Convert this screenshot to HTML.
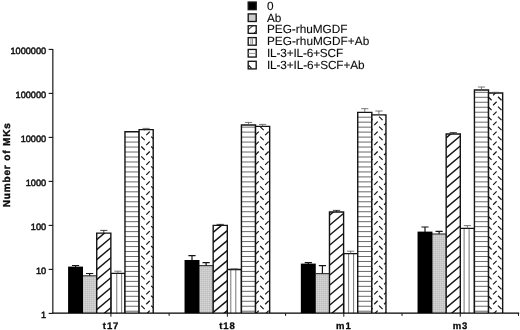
<!DOCTYPE html>
<html><head><meta charset="utf-8"><title>Number of MKs</title>
<style>
html,body{margin:0;padding:0;background:#fff;}
body{width:520px;height:330px;overflow:hidden;}
svg text{font-family:"Liberation Sans",Arial,Helvetica,sans-serif;fill:#0a0a0a;stroke:#0a0a0a;stroke-width:0.3px;text-rendering:geometricPrecision;}
.yl{font-size:9.2px;stroke-width:0.45px;}
.xl{font-size:9.5px;font-weight:bold;letter-spacing:0.9px;}
.yt{font-size:10px;font-weight:bold;stroke-width:0.4px;}
.lg{font-size:11.8px;stroke-width:0.1px;}
</style></head><body>
<svg width="520" height="330" viewBox="0 0 520 330" style="display:block">
<rect width="520" height="330" fill="#fff"/>
<defs>
<clipPath id="c00"><rect x="68.49" y="267.00" width="14.12" height="46.10"/></clipPath>
<clipPath id="c01"><rect x="82.61" y="275.80" width="14.12" height="37.30"/></clipPath>
<clipPath id="c02"><rect x="96.73" y="233.10" width="14.12" height="80.00"/></clipPath>
<clipPath id="c03"><rect x="110.85" y="273.40" width="14.12" height="39.70"/></clipPath>
<clipPath id="c04"><rect x="124.97" y="131.70" width="14.12" height="181.40"/></clipPath>
<clipPath id="c05"><rect x="139.09" y="129.60" width="14.12" height="183.50"/></clipPath>
<clipPath id="c10"><rect x="184.94" y="260.40" width="14.12" height="52.70"/></clipPath>
<clipPath id="c11"><rect x="199.06" y="265.60" width="14.12" height="47.50"/></clipPath>
<clipPath id="c12"><rect x="213.18" y="225.40" width="14.12" height="87.70"/></clipPath>
<clipPath id="c13"><rect x="227.30" y="269.50" width="14.12" height="43.60"/></clipPath>
<clipPath id="c14"><rect x="241.42" y="125.00" width="14.12" height="188.10"/></clipPath>
<clipPath id="c15"><rect x="255.54" y="126.40" width="14.12" height="186.70"/></clipPath>
<clipPath id="c20"><rect x="301.24" y="264.00" width="14.12" height="49.10"/></clipPath>
<clipPath id="c21"><rect x="315.36" y="273.60" width="14.12" height="39.50"/></clipPath>
<clipPath id="c22"><rect x="329.48" y="212.00" width="14.12" height="101.10"/></clipPath>
<clipPath id="c23"><rect x="343.60" y="253.60" width="14.12" height="59.50"/></clipPath>
<clipPath id="c24"><rect x="357.72" y="112.40" width="14.12" height="200.70"/></clipPath>
<clipPath id="c25"><rect x="371.84" y="114.90" width="14.12" height="198.20"/></clipPath>
<clipPath id="c30"><rect x="417.94" y="232.00" width="14.12" height="81.10"/></clipPath>
<clipPath id="c31"><rect x="432.06" y="234.00" width="14.12" height="79.10"/></clipPath>
<clipPath id="c32"><rect x="446.18" y="134.00" width="14.12" height="179.10"/></clipPath>
<clipPath id="c33"><rect x="460.30" y="228.40" width="14.12" height="84.70"/></clipPath>
<clipPath id="c34"><rect x="474.42" y="90.00" width="14.12" height="223.10"/></clipPath>
<clipPath id="c35"><rect x="488.54" y="93.00" width="14.12" height="220.10"/></clipPath>
<pattern id="gp" width="2" height="2" patternUnits="userSpaceOnUse"><rect width="2" height="2" fill="#c9c9c9"/><rect x="0" y="0" width="1" height="1" fill="#d6d6d6"/><rect x="1" y="1" width="1" height="1" fill="#c0c0c0"/></pattern>
</defs>
<rect x="82.61" y="275.80" width="14.12" height="37.30" fill="url(#gp)"/>
<line x1="82.61" y1="275.80" x2="96.73" y2="275.80" stroke="#3a3a3a" stroke-width="1.2"/>
<line x1="96.73" y1="275.80" x2="96.73" y2="313.10" stroke="#555" stroke-width="0.8"/>
<path d="M89.67 275.80V273.50M86.07 273.50H93.27" fill="none" stroke="#141414" stroke-width="1.2"/>
<rect x="110.85" y="273.40" width="14.12" height="39.70" fill="#fff"/>
<g clip-path="url(#c03)">
<line x1="116.75" y1="273.40" x2="116.75" y2="313.10" stroke="#666" stroke-width="0.9"/>
<line x1="121.65" y1="273.40" x2="121.65" y2="313.10" stroke="#666" stroke-width="0.9"/>
</g>
<path d="M110.85 313.10V273.40H124.97V313.10" fill="none" stroke="#141414" stroke-width="1.4"/>
<path d="M117.91 273.40V271.20M114.31 271.20H121.51" fill="none" stroke="#555" stroke-width="0.8"/>
<rect x="124.97" y="131.70" width="14.12" height="181.40" fill="#fff"/>
<g clip-path="url(#c04)">
<line x1="124.97" y1="137.10" x2="139.09" y2="137.10" stroke="#6a6a6a" stroke-width="1.0"/>
<line x1="124.97" y1="142.07" x2="139.09" y2="142.07" stroke="#6a6a6a" stroke-width="1.0"/>
<line x1="124.97" y1="147.05" x2="139.09" y2="147.05" stroke="#6a6a6a" stroke-width="1.0"/>
<line x1="124.97" y1="152.02" x2="139.09" y2="152.02" stroke="#6a6a6a" stroke-width="1.0"/>
<line x1="124.97" y1="157.00" x2="139.09" y2="157.00" stroke="#6a6a6a" stroke-width="1.0"/>
<line x1="124.97" y1="161.97" x2="139.09" y2="161.97" stroke="#6a6a6a" stroke-width="1.0"/>
<line x1="124.97" y1="166.95" x2="139.09" y2="166.95" stroke="#6a6a6a" stroke-width="1.0"/>
<line x1="124.97" y1="171.93" x2="139.09" y2="171.93" stroke="#6a6a6a" stroke-width="1.0"/>
<line x1="124.97" y1="176.90" x2="139.09" y2="176.90" stroke="#6a6a6a" stroke-width="1.0"/>
<line x1="124.97" y1="181.88" x2="139.09" y2="181.88" stroke="#6a6a6a" stroke-width="1.0"/>
<line x1="124.97" y1="186.85" x2="139.09" y2="186.85" stroke="#6a6a6a" stroke-width="1.0"/>
<line x1="124.97" y1="191.82" x2="139.09" y2="191.82" stroke="#6a6a6a" stroke-width="1.0"/>
<line x1="124.97" y1="196.80" x2="139.09" y2="196.80" stroke="#6a6a6a" stroke-width="1.0"/>
<line x1="124.97" y1="201.77" x2="139.09" y2="201.77" stroke="#6a6a6a" stroke-width="1.0"/>
<line x1="124.97" y1="206.75" x2="139.09" y2="206.75" stroke="#6a6a6a" stroke-width="1.0"/>
<line x1="124.97" y1="211.72" x2="139.09" y2="211.72" stroke="#6a6a6a" stroke-width="1.0"/>
<line x1="124.97" y1="216.70" x2="139.09" y2="216.70" stroke="#6a6a6a" stroke-width="1.0"/>
<line x1="124.97" y1="221.67" x2="139.09" y2="221.67" stroke="#6a6a6a" stroke-width="1.0"/>
<line x1="124.97" y1="226.65" x2="139.09" y2="226.65" stroke="#6a6a6a" stroke-width="1.0"/>
<line x1="124.97" y1="231.62" x2="139.09" y2="231.62" stroke="#6a6a6a" stroke-width="1.0"/>
<line x1="124.97" y1="236.60" x2="139.09" y2="236.60" stroke="#6a6a6a" stroke-width="1.0"/>
<line x1="124.97" y1="241.57" x2="139.09" y2="241.57" stroke="#6a6a6a" stroke-width="1.0"/>
<line x1="124.97" y1="246.55" x2="139.09" y2="246.55" stroke="#6a6a6a" stroke-width="1.0"/>
<line x1="124.97" y1="251.52" x2="139.09" y2="251.52" stroke="#6a6a6a" stroke-width="1.0"/>
<line x1="124.97" y1="256.50" x2="139.09" y2="256.50" stroke="#6a6a6a" stroke-width="1.0"/>
<line x1="124.97" y1="261.47" x2="139.09" y2="261.47" stroke="#6a6a6a" stroke-width="1.0"/>
<line x1="124.97" y1="266.45" x2="139.09" y2="266.45" stroke="#6a6a6a" stroke-width="1.0"/>
<line x1="124.97" y1="271.43" x2="139.09" y2="271.43" stroke="#6a6a6a" stroke-width="1.0"/>
<line x1="124.97" y1="276.40" x2="139.09" y2="276.40" stroke="#6a6a6a" stroke-width="1.0"/>
<line x1="124.97" y1="281.38" x2="139.09" y2="281.38" stroke="#6a6a6a" stroke-width="1.0"/>
<line x1="124.97" y1="286.35" x2="139.09" y2="286.35" stroke="#6a6a6a" stroke-width="1.0"/>
<line x1="124.97" y1="291.32" x2="139.09" y2="291.32" stroke="#6a6a6a" stroke-width="1.0"/>
<line x1="124.97" y1="296.30" x2="139.09" y2="296.30" stroke="#6a6a6a" stroke-width="1.0"/>
<line x1="124.97" y1="301.27" x2="139.09" y2="301.27" stroke="#6a6a6a" stroke-width="1.0"/>
<line x1="124.97" y1="306.25" x2="139.09" y2="306.25" stroke="#6a6a6a" stroke-width="1.0"/>
<line x1="124.97" y1="311.22" x2="139.09" y2="311.22" stroke="#6a6a6a" stroke-width="1.0"/>
</g>
<path d="M124.97 313.10V131.70H139.09V313.10" fill="none" stroke="#141414" stroke-width="1.4"/>
<rect x="139.09" y="129.60" width="14.12" height="183.50" fill="#fff"/>
<g clip-path="url(#c05)">
<line x1="146.25" y1="135.10" x2="149.75" y2="131.60" stroke="#141414" stroke-width="1.2"/>
<line x1="141.25" y1="126.60" x2="144.75" y2="130.10" stroke="#141414" stroke-width="1.2"/>
<line x1="146.25" y1="145.05" x2="149.75" y2="141.55" stroke="#141414" stroke-width="1.2"/>
<line x1="141.25" y1="136.55" x2="144.75" y2="140.05" stroke="#141414" stroke-width="1.2"/>
<line x1="146.25" y1="155.00" x2="149.75" y2="151.50" stroke="#141414" stroke-width="1.2"/>
<line x1="141.25" y1="146.50" x2="144.75" y2="150.00" stroke="#141414" stroke-width="1.2"/>
<line x1="146.25" y1="164.95" x2="149.75" y2="161.45" stroke="#141414" stroke-width="1.2"/>
<line x1="141.25" y1="156.45" x2="144.75" y2="159.95" stroke="#141414" stroke-width="1.2"/>
<line x1="146.25" y1="174.90" x2="149.75" y2="171.40" stroke="#141414" stroke-width="1.2"/>
<line x1="141.25" y1="166.40" x2="144.75" y2="169.90" stroke="#141414" stroke-width="1.2"/>
<line x1="146.25" y1="184.85" x2="149.75" y2="181.35" stroke="#141414" stroke-width="1.2"/>
<line x1="141.25" y1="176.35" x2="144.75" y2="179.85" stroke="#141414" stroke-width="1.2"/>
<line x1="146.25" y1="194.80" x2="149.75" y2="191.30" stroke="#141414" stroke-width="1.2"/>
<line x1="141.25" y1="186.30" x2="144.75" y2="189.80" stroke="#141414" stroke-width="1.2"/>
<line x1="146.25" y1="204.75" x2="149.75" y2="201.25" stroke="#141414" stroke-width="1.2"/>
<line x1="141.25" y1="196.25" x2="144.75" y2="199.75" stroke="#141414" stroke-width="1.2"/>
<line x1="146.25" y1="214.70" x2="149.75" y2="211.20" stroke="#141414" stroke-width="1.2"/>
<line x1="141.25" y1="206.20" x2="144.75" y2="209.70" stroke="#141414" stroke-width="1.2"/>
<line x1="146.25" y1="224.65" x2="149.75" y2="221.15" stroke="#141414" stroke-width="1.2"/>
<line x1="141.25" y1="216.15" x2="144.75" y2="219.65" stroke="#141414" stroke-width="1.2"/>
<line x1="146.25" y1="234.60" x2="149.75" y2="231.10" stroke="#141414" stroke-width="1.2"/>
<line x1="141.25" y1="226.10" x2="144.75" y2="229.60" stroke="#141414" stroke-width="1.2"/>
<line x1="146.25" y1="244.55" x2="149.75" y2="241.05" stroke="#141414" stroke-width="1.2"/>
<line x1="141.25" y1="236.05" x2="144.75" y2="239.55" stroke="#141414" stroke-width="1.2"/>
<line x1="146.25" y1="254.50" x2="149.75" y2="251.00" stroke="#141414" stroke-width="1.2"/>
<line x1="141.25" y1="246.00" x2="144.75" y2="249.50" stroke="#141414" stroke-width="1.2"/>
<line x1="146.25" y1="264.45" x2="149.75" y2="260.95" stroke="#141414" stroke-width="1.2"/>
<line x1="141.25" y1="255.95" x2="144.75" y2="259.45" stroke="#141414" stroke-width="1.2"/>
<line x1="146.25" y1="274.40" x2="149.75" y2="270.90" stroke="#141414" stroke-width="1.2"/>
<line x1="141.25" y1="265.90" x2="144.75" y2="269.40" stroke="#141414" stroke-width="1.2"/>
<line x1="146.25" y1="284.35" x2="149.75" y2="280.85" stroke="#141414" stroke-width="1.2"/>
<line x1="141.25" y1="275.85" x2="144.75" y2="279.35" stroke="#141414" stroke-width="1.2"/>
<line x1="146.25" y1="294.30" x2="149.75" y2="290.80" stroke="#141414" stroke-width="1.2"/>
<line x1="141.25" y1="285.80" x2="144.75" y2="289.30" stroke="#141414" stroke-width="1.2"/>
<line x1="146.25" y1="304.25" x2="149.75" y2="300.75" stroke="#141414" stroke-width="1.2"/>
<line x1="141.25" y1="295.75" x2="144.75" y2="299.25" stroke="#141414" stroke-width="1.2"/>
<line x1="146.25" y1="314.20" x2="149.75" y2="310.70" stroke="#141414" stroke-width="1.2"/>
<line x1="141.25" y1="305.70" x2="144.75" y2="309.20" stroke="#141414" stroke-width="1.2"/>
<line x1="151.16" y1="126.60" x2="154.66" y2="130.10" stroke="#141414" stroke-width="1.2"/>
<line x1="151.16" y1="136.55" x2="154.66" y2="140.05" stroke="#141414" stroke-width="1.2"/>
<line x1="151.16" y1="146.50" x2="154.66" y2="150.00" stroke="#141414" stroke-width="1.2"/>
<line x1="151.16" y1="156.45" x2="154.66" y2="159.95" stroke="#141414" stroke-width="1.2"/>
<line x1="151.16" y1="166.40" x2="154.66" y2="169.90" stroke="#141414" stroke-width="1.2"/>
<line x1="151.16" y1="176.35" x2="154.66" y2="179.85" stroke="#141414" stroke-width="1.2"/>
<line x1="151.16" y1="186.30" x2="154.66" y2="189.80" stroke="#141414" stroke-width="1.2"/>
<line x1="151.16" y1="196.25" x2="154.66" y2="199.75" stroke="#141414" stroke-width="1.2"/>
<line x1="151.16" y1="206.20" x2="154.66" y2="209.70" stroke="#141414" stroke-width="1.2"/>
<line x1="151.16" y1="216.15" x2="154.66" y2="219.65" stroke="#141414" stroke-width="1.2"/>
<line x1="151.16" y1="226.10" x2="154.66" y2="229.60" stroke="#141414" stroke-width="1.2"/>
<line x1="151.16" y1="236.05" x2="154.66" y2="239.55" stroke="#141414" stroke-width="1.2"/>
<line x1="151.16" y1="246.00" x2="154.66" y2="249.50" stroke="#141414" stroke-width="1.2"/>
<line x1="151.16" y1="255.95" x2="154.66" y2="259.45" stroke="#141414" stroke-width="1.2"/>
<line x1="151.16" y1="265.90" x2="154.66" y2="269.40" stroke="#141414" stroke-width="1.2"/>
<line x1="151.16" y1="275.85" x2="154.66" y2="279.35" stroke="#141414" stroke-width="1.2"/>
<line x1="151.16" y1="285.80" x2="154.66" y2="289.30" stroke="#141414" stroke-width="1.2"/>
<line x1="151.16" y1="295.75" x2="154.66" y2="299.25" stroke="#141414" stroke-width="1.2"/>
<line x1="151.16" y1="305.70" x2="154.66" y2="309.20" stroke="#141414" stroke-width="1.2"/>
</g>
<path d="M139.09 313.10V129.60H153.21V313.10" fill="none" stroke="#141414" stroke-width="1.4"/>
<path d="M146.15 129.60V128.40M142.55 128.40H149.75" fill="none" stroke="#555" stroke-width="0.8"/>
<rect x="96.73" y="233.10" width="14.12" height="80.00" fill="#fff"/>
<g clip-path="url(#c02)">
<line x1="94.73" y1="231.25" x2="112.85" y2="216.12" stroke="#141414" stroke-width="1.45"/>
<line x1="94.73" y1="241.25" x2="112.85" y2="226.12" stroke="#141414" stroke-width="1.45"/>
<line x1="94.73" y1="251.25" x2="112.85" y2="236.12" stroke="#141414" stroke-width="1.45"/>
<line x1="94.73" y1="261.25" x2="112.85" y2="246.12" stroke="#141414" stroke-width="1.45"/>
<line x1="94.73" y1="271.25" x2="112.85" y2="256.12" stroke="#141414" stroke-width="1.45"/>
<line x1="94.73" y1="281.25" x2="112.85" y2="266.12" stroke="#141414" stroke-width="1.45"/>
<line x1="94.73" y1="291.25" x2="112.85" y2="276.12" stroke="#141414" stroke-width="1.45"/>
<line x1="94.73" y1="301.25" x2="112.85" y2="286.12" stroke="#141414" stroke-width="1.45"/>
<line x1="94.73" y1="311.25" x2="112.85" y2="296.12" stroke="#141414" stroke-width="1.45"/>
<line x1="94.73" y1="321.25" x2="112.85" y2="306.12" stroke="#141414" stroke-width="1.45"/>
</g>
<path d="M96.73 313.10V233.10H110.85V313.10" fill="none" stroke="#141414" stroke-width="1.4"/>
<path d="M103.79 233.10V230.40M100.19 230.40H107.39" fill="none" stroke="#141414" stroke-width="0.8"/>
<rect x="68.09" y="266.60" width="14.92" height="46.50" fill="#000"/>
<path d="M75.55 267.00V265.50M71.95 265.50H79.15" fill="none" stroke="#141414" stroke-width="1.2"/>
<rect x="199.06" y="265.60" width="14.12" height="47.50" fill="url(#gp)"/>
<line x1="199.06" y1="265.60" x2="213.18" y2="265.60" stroke="#3a3a3a" stroke-width="1.2"/>
<line x1="213.18" y1="265.60" x2="213.18" y2="313.10" stroke="#555" stroke-width="0.8"/>
<path d="M206.12 265.60V262.60M202.52 262.60H209.72" fill="none" stroke="#141414" stroke-width="1.2"/>
<rect x="227.30" y="269.50" width="14.12" height="43.60" fill="#fff"/>
<g clip-path="url(#c13)">
<line x1="230.80" y1="269.50" x2="230.80" y2="313.10" stroke="#666" stroke-width="0.9"/>
<line x1="235.80" y1="269.50" x2="235.80" y2="313.10" stroke="#666" stroke-width="0.9"/>
</g>
<path d="M227.30 313.10V269.50H241.42V313.10" fill="none" stroke="#141414" stroke-width="1.4"/>
<path d="M234.36 269.50V268.80M230.76 268.80H237.96" fill="none" stroke="#555" stroke-width="0.8"/>
<rect x="241.42" y="125.00" width="14.12" height="188.10" fill="#fff"/>
<g clip-path="url(#c14)">
<line x1="241.42" y1="127.15" x2="255.54" y2="127.15" stroke="#6a6a6a" stroke-width="1.0"/>
<line x1="241.42" y1="132.12" x2="255.54" y2="132.12" stroke="#6a6a6a" stroke-width="1.0"/>
<line x1="241.42" y1="137.10" x2="255.54" y2="137.10" stroke="#6a6a6a" stroke-width="1.0"/>
<line x1="241.42" y1="142.07" x2="255.54" y2="142.07" stroke="#6a6a6a" stroke-width="1.0"/>
<line x1="241.42" y1="147.05" x2="255.54" y2="147.05" stroke="#6a6a6a" stroke-width="1.0"/>
<line x1="241.42" y1="152.02" x2="255.54" y2="152.02" stroke="#6a6a6a" stroke-width="1.0"/>
<line x1="241.42" y1="157.00" x2="255.54" y2="157.00" stroke="#6a6a6a" stroke-width="1.0"/>
<line x1="241.42" y1="161.97" x2="255.54" y2="161.97" stroke="#6a6a6a" stroke-width="1.0"/>
<line x1="241.42" y1="166.95" x2="255.54" y2="166.95" stroke="#6a6a6a" stroke-width="1.0"/>
<line x1="241.42" y1="171.93" x2="255.54" y2="171.93" stroke="#6a6a6a" stroke-width="1.0"/>
<line x1="241.42" y1="176.90" x2="255.54" y2="176.90" stroke="#6a6a6a" stroke-width="1.0"/>
<line x1="241.42" y1="181.88" x2="255.54" y2="181.88" stroke="#6a6a6a" stroke-width="1.0"/>
<line x1="241.42" y1="186.85" x2="255.54" y2="186.85" stroke="#6a6a6a" stroke-width="1.0"/>
<line x1="241.42" y1="191.82" x2="255.54" y2="191.82" stroke="#6a6a6a" stroke-width="1.0"/>
<line x1="241.42" y1="196.80" x2="255.54" y2="196.80" stroke="#6a6a6a" stroke-width="1.0"/>
<line x1="241.42" y1="201.77" x2="255.54" y2="201.77" stroke="#6a6a6a" stroke-width="1.0"/>
<line x1="241.42" y1="206.75" x2="255.54" y2="206.75" stroke="#6a6a6a" stroke-width="1.0"/>
<line x1="241.42" y1="211.72" x2="255.54" y2="211.72" stroke="#6a6a6a" stroke-width="1.0"/>
<line x1="241.42" y1="216.70" x2="255.54" y2="216.70" stroke="#6a6a6a" stroke-width="1.0"/>
<line x1="241.42" y1="221.67" x2="255.54" y2="221.67" stroke="#6a6a6a" stroke-width="1.0"/>
<line x1="241.42" y1="226.65" x2="255.54" y2="226.65" stroke="#6a6a6a" stroke-width="1.0"/>
<line x1="241.42" y1="231.62" x2="255.54" y2="231.62" stroke="#6a6a6a" stroke-width="1.0"/>
<line x1="241.42" y1="236.60" x2="255.54" y2="236.60" stroke="#6a6a6a" stroke-width="1.0"/>
<line x1="241.42" y1="241.57" x2="255.54" y2="241.57" stroke="#6a6a6a" stroke-width="1.0"/>
<line x1="241.42" y1="246.55" x2="255.54" y2="246.55" stroke="#6a6a6a" stroke-width="1.0"/>
<line x1="241.42" y1="251.52" x2="255.54" y2="251.52" stroke="#6a6a6a" stroke-width="1.0"/>
<line x1="241.42" y1="256.50" x2="255.54" y2="256.50" stroke="#6a6a6a" stroke-width="1.0"/>
<line x1="241.42" y1="261.47" x2="255.54" y2="261.47" stroke="#6a6a6a" stroke-width="1.0"/>
<line x1="241.42" y1="266.45" x2="255.54" y2="266.45" stroke="#6a6a6a" stroke-width="1.0"/>
<line x1="241.42" y1="271.43" x2="255.54" y2="271.43" stroke="#6a6a6a" stroke-width="1.0"/>
<line x1="241.42" y1="276.40" x2="255.54" y2="276.40" stroke="#6a6a6a" stroke-width="1.0"/>
<line x1="241.42" y1="281.38" x2="255.54" y2="281.38" stroke="#6a6a6a" stroke-width="1.0"/>
<line x1="241.42" y1="286.35" x2="255.54" y2="286.35" stroke="#6a6a6a" stroke-width="1.0"/>
<line x1="241.42" y1="291.32" x2="255.54" y2="291.32" stroke="#6a6a6a" stroke-width="1.0"/>
<line x1="241.42" y1="296.30" x2="255.54" y2="296.30" stroke="#6a6a6a" stroke-width="1.0"/>
<line x1="241.42" y1="301.27" x2="255.54" y2="301.27" stroke="#6a6a6a" stroke-width="1.0"/>
<line x1="241.42" y1="306.25" x2="255.54" y2="306.25" stroke="#6a6a6a" stroke-width="1.0"/>
<line x1="241.42" y1="311.22" x2="255.54" y2="311.22" stroke="#6a6a6a" stroke-width="1.0"/>
</g>
<path d="M241.42 313.10V125.00H255.54V313.10" fill="none" stroke="#141414" stroke-width="1.4"/>
<path d="M248.48 125.00V122.40M244.88 122.40H252.08" fill="none" stroke="#555" stroke-width="0.8"/>
<rect x="255.54" y="126.40" width="14.12" height="186.70" fill="#fff"/>
<g clip-path="url(#c15)">
<line x1="255.26" y1="125.15" x2="258.76" y2="121.65" stroke="#141414" stroke-width="1.2"/>
<line x1="255.26" y1="135.10" x2="258.76" y2="131.60" stroke="#141414" stroke-width="1.2"/>
<line x1="255.26" y1="145.05" x2="258.76" y2="141.55" stroke="#141414" stroke-width="1.2"/>
<line x1="255.26" y1="155.00" x2="258.76" y2="151.50" stroke="#141414" stroke-width="1.2"/>
<line x1="255.26" y1="164.95" x2="258.76" y2="161.45" stroke="#141414" stroke-width="1.2"/>
<line x1="255.26" y1="174.90" x2="258.76" y2="171.40" stroke="#141414" stroke-width="1.2"/>
<line x1="255.26" y1="184.85" x2="258.76" y2="181.35" stroke="#141414" stroke-width="1.2"/>
<line x1="255.26" y1="194.80" x2="258.76" y2="191.30" stroke="#141414" stroke-width="1.2"/>
<line x1="255.26" y1="204.75" x2="258.76" y2="201.25" stroke="#141414" stroke-width="1.2"/>
<line x1="255.26" y1="214.70" x2="258.76" y2="211.20" stroke="#141414" stroke-width="1.2"/>
<line x1="255.26" y1="224.65" x2="258.76" y2="221.15" stroke="#141414" stroke-width="1.2"/>
<line x1="255.26" y1="234.60" x2="258.76" y2="231.10" stroke="#141414" stroke-width="1.2"/>
<line x1="255.26" y1="244.55" x2="258.76" y2="241.05" stroke="#141414" stroke-width="1.2"/>
<line x1="255.26" y1="254.50" x2="258.76" y2="251.00" stroke="#141414" stroke-width="1.2"/>
<line x1="255.26" y1="264.45" x2="258.76" y2="260.95" stroke="#141414" stroke-width="1.2"/>
<line x1="255.26" y1="274.40" x2="258.76" y2="270.90" stroke="#141414" stroke-width="1.2"/>
<line x1="255.26" y1="284.35" x2="258.76" y2="280.85" stroke="#141414" stroke-width="1.2"/>
<line x1="255.26" y1="294.30" x2="258.76" y2="290.80" stroke="#141414" stroke-width="1.2"/>
<line x1="255.26" y1="304.25" x2="258.76" y2="300.75" stroke="#141414" stroke-width="1.2"/>
<line x1="255.26" y1="314.20" x2="258.76" y2="310.70" stroke="#141414" stroke-width="1.2"/>
<line x1="265.17" y1="125.15" x2="268.67" y2="121.65" stroke="#141414" stroke-width="1.2"/>
<line x1="265.17" y1="135.10" x2="268.67" y2="131.60" stroke="#141414" stroke-width="1.2"/>
<line x1="260.17" y1="126.60" x2="263.67" y2="130.10" stroke="#141414" stroke-width="1.2"/>
<line x1="265.17" y1="145.05" x2="268.67" y2="141.55" stroke="#141414" stroke-width="1.2"/>
<line x1="260.17" y1="136.55" x2="263.67" y2="140.05" stroke="#141414" stroke-width="1.2"/>
<line x1="265.17" y1="155.00" x2="268.67" y2="151.50" stroke="#141414" stroke-width="1.2"/>
<line x1="260.17" y1="146.50" x2="263.67" y2="150.00" stroke="#141414" stroke-width="1.2"/>
<line x1="265.17" y1="164.95" x2="268.67" y2="161.45" stroke="#141414" stroke-width="1.2"/>
<line x1="260.17" y1="156.45" x2="263.67" y2="159.95" stroke="#141414" stroke-width="1.2"/>
<line x1="265.17" y1="174.90" x2="268.67" y2="171.40" stroke="#141414" stroke-width="1.2"/>
<line x1="260.17" y1="166.40" x2="263.67" y2="169.90" stroke="#141414" stroke-width="1.2"/>
<line x1="265.17" y1="184.85" x2="268.67" y2="181.35" stroke="#141414" stroke-width="1.2"/>
<line x1="260.17" y1="176.35" x2="263.67" y2="179.85" stroke="#141414" stroke-width="1.2"/>
<line x1="265.17" y1="194.80" x2="268.67" y2="191.30" stroke="#141414" stroke-width="1.2"/>
<line x1="260.17" y1="186.30" x2="263.67" y2="189.80" stroke="#141414" stroke-width="1.2"/>
<line x1="265.17" y1="204.75" x2="268.67" y2="201.25" stroke="#141414" stroke-width="1.2"/>
<line x1="260.17" y1="196.25" x2="263.67" y2="199.75" stroke="#141414" stroke-width="1.2"/>
<line x1="265.17" y1="214.70" x2="268.67" y2="211.20" stroke="#141414" stroke-width="1.2"/>
<line x1="260.17" y1="206.20" x2="263.67" y2="209.70" stroke="#141414" stroke-width="1.2"/>
<line x1="265.17" y1="224.65" x2="268.67" y2="221.15" stroke="#141414" stroke-width="1.2"/>
<line x1="260.17" y1="216.15" x2="263.67" y2="219.65" stroke="#141414" stroke-width="1.2"/>
<line x1="265.17" y1="234.60" x2="268.67" y2="231.10" stroke="#141414" stroke-width="1.2"/>
<line x1="260.17" y1="226.10" x2="263.67" y2="229.60" stroke="#141414" stroke-width="1.2"/>
<line x1="265.17" y1="244.55" x2="268.67" y2="241.05" stroke="#141414" stroke-width="1.2"/>
<line x1="260.17" y1="236.05" x2="263.67" y2="239.55" stroke="#141414" stroke-width="1.2"/>
<line x1="265.17" y1="254.50" x2="268.67" y2="251.00" stroke="#141414" stroke-width="1.2"/>
<line x1="260.17" y1="246.00" x2="263.67" y2="249.50" stroke="#141414" stroke-width="1.2"/>
<line x1="265.17" y1="264.45" x2="268.67" y2="260.95" stroke="#141414" stroke-width="1.2"/>
<line x1="260.17" y1="255.95" x2="263.67" y2="259.45" stroke="#141414" stroke-width="1.2"/>
<line x1="265.17" y1="274.40" x2="268.67" y2="270.90" stroke="#141414" stroke-width="1.2"/>
<line x1="260.17" y1="265.90" x2="263.67" y2="269.40" stroke="#141414" stroke-width="1.2"/>
<line x1="265.17" y1="284.35" x2="268.67" y2="280.85" stroke="#141414" stroke-width="1.2"/>
<line x1="260.17" y1="275.85" x2="263.67" y2="279.35" stroke="#141414" stroke-width="1.2"/>
<line x1="265.17" y1="294.30" x2="268.67" y2="290.80" stroke="#141414" stroke-width="1.2"/>
<line x1="260.17" y1="285.80" x2="263.67" y2="289.30" stroke="#141414" stroke-width="1.2"/>
<line x1="265.17" y1="304.25" x2="268.67" y2="300.75" stroke="#141414" stroke-width="1.2"/>
<line x1="260.17" y1="295.75" x2="263.67" y2="299.25" stroke="#141414" stroke-width="1.2"/>
<line x1="265.17" y1="314.20" x2="268.67" y2="310.70" stroke="#141414" stroke-width="1.2"/>
<line x1="260.17" y1="305.70" x2="263.67" y2="309.20" stroke="#141414" stroke-width="1.2"/>
<line x1="270.08" y1="126.60" x2="273.58" y2="130.10" stroke="#141414" stroke-width="1.2"/>
<line x1="270.08" y1="136.55" x2="273.58" y2="140.05" stroke="#141414" stroke-width="1.2"/>
<line x1="270.08" y1="146.50" x2="273.58" y2="150.00" stroke="#141414" stroke-width="1.2"/>
<line x1="270.08" y1="156.45" x2="273.58" y2="159.95" stroke="#141414" stroke-width="1.2"/>
<line x1="270.08" y1="166.40" x2="273.58" y2="169.90" stroke="#141414" stroke-width="1.2"/>
<line x1="270.08" y1="176.35" x2="273.58" y2="179.85" stroke="#141414" stroke-width="1.2"/>
<line x1="270.08" y1="186.30" x2="273.58" y2="189.80" stroke="#141414" stroke-width="1.2"/>
<line x1="270.08" y1="196.25" x2="273.58" y2="199.75" stroke="#141414" stroke-width="1.2"/>
<line x1="270.08" y1="206.20" x2="273.58" y2="209.70" stroke="#141414" stroke-width="1.2"/>
<line x1="270.08" y1="216.15" x2="273.58" y2="219.65" stroke="#141414" stroke-width="1.2"/>
<line x1="270.08" y1="226.10" x2="273.58" y2="229.60" stroke="#141414" stroke-width="1.2"/>
<line x1="270.08" y1="236.05" x2="273.58" y2="239.55" stroke="#141414" stroke-width="1.2"/>
<line x1="270.08" y1="246.00" x2="273.58" y2="249.50" stroke="#141414" stroke-width="1.2"/>
<line x1="270.08" y1="255.95" x2="273.58" y2="259.45" stroke="#141414" stroke-width="1.2"/>
<line x1="270.08" y1="265.90" x2="273.58" y2="269.40" stroke="#141414" stroke-width="1.2"/>
<line x1="270.08" y1="275.85" x2="273.58" y2="279.35" stroke="#141414" stroke-width="1.2"/>
<line x1="270.08" y1="285.80" x2="273.58" y2="289.30" stroke="#141414" stroke-width="1.2"/>
<line x1="270.08" y1="295.75" x2="273.58" y2="299.25" stroke="#141414" stroke-width="1.2"/>
<line x1="270.08" y1="305.70" x2="273.58" y2="309.20" stroke="#141414" stroke-width="1.2"/>
</g>
<path d="M255.54 313.10V126.40H269.66V313.10" fill="none" stroke="#141414" stroke-width="1.4"/>
<path d="M262.60 126.40V124.40M259.00 124.40H266.20" fill="none" stroke="#555" stroke-width="0.8"/>
<rect x="213.18" y="225.40" width="14.12" height="87.70" fill="#fff"/>
<g clip-path="url(#c12)">
<line x1="211.18" y1="224.01" x2="229.30" y2="208.88" stroke="#141414" stroke-width="1.45"/>
<line x1="211.18" y1="234.01" x2="229.30" y2="218.88" stroke="#141414" stroke-width="1.45"/>
<line x1="211.18" y1="244.01" x2="229.30" y2="228.88" stroke="#141414" stroke-width="1.45"/>
<line x1="211.18" y1="254.01" x2="229.30" y2="238.88" stroke="#141414" stroke-width="1.45"/>
<line x1="211.18" y1="264.01" x2="229.30" y2="248.88" stroke="#141414" stroke-width="1.45"/>
<line x1="211.18" y1="274.01" x2="229.30" y2="258.88" stroke="#141414" stroke-width="1.45"/>
<line x1="211.18" y1="284.01" x2="229.30" y2="268.88" stroke="#141414" stroke-width="1.45"/>
<line x1="211.18" y1="294.01" x2="229.30" y2="278.88" stroke="#141414" stroke-width="1.45"/>
<line x1="211.18" y1="304.01" x2="229.30" y2="288.88" stroke="#141414" stroke-width="1.45"/>
<line x1="211.18" y1="314.01" x2="229.30" y2="298.88" stroke="#141414" stroke-width="1.45"/>
<line x1="211.18" y1="324.01" x2="229.30" y2="308.88" stroke="#141414" stroke-width="1.45"/>
</g>
<path d="M213.18 313.10V225.40H227.30V313.10" fill="none" stroke="#141414" stroke-width="1.4"/>
<path d="M220.24 225.40V224.40M216.64 224.40H223.84" fill="none" stroke="#141414" stroke-width="0.8"/>
<rect x="184.54" y="260.00" width="14.92" height="53.10" fill="#000"/>
<path d="M192.00 260.40V255.60M188.40 255.60H195.60" fill="none" stroke="#141414" stroke-width="1.2"/>
<rect x="315.36" y="273.60" width="14.12" height="39.50" fill="url(#gp)"/>
<line x1="315.36" y1="273.60" x2="329.48" y2="273.60" stroke="#3a3a3a" stroke-width="1.2"/>
<line x1="329.48" y1="273.60" x2="329.48" y2="313.10" stroke="#555" stroke-width="0.8"/>
<path d="M322.42 273.60V265.60M318.82 265.60H326.02" fill="none" stroke="#141414" stroke-width="1.2"/>
<rect x="343.60" y="253.60" width="14.12" height="59.50" fill="#fff"/>
<g clip-path="url(#c23)">
<line x1="348.60" y1="253.60" x2="348.60" y2="313.10" stroke="#666" stroke-width="0.9"/>
<line x1="353.60" y1="253.60" x2="353.60" y2="313.10" stroke="#666" stroke-width="0.9"/>
</g>
<path d="M343.60 313.10V253.60H357.72V313.10" fill="none" stroke="#141414" stroke-width="1.4"/>
<path d="M350.66 253.60V251.20M347.06 251.20H354.26" fill="none" stroke="#555" stroke-width="0.8"/>
<rect x="357.72" y="112.40" width="14.12" height="200.70" fill="#fff"/>
<g clip-path="url(#c24)">
<line x1="357.72" y1="117.20" x2="371.84" y2="117.20" stroke="#6a6a6a" stroke-width="1.0"/>
<line x1="357.72" y1="122.17" x2="371.84" y2="122.17" stroke="#6a6a6a" stroke-width="1.0"/>
<line x1="357.72" y1="127.15" x2="371.84" y2="127.15" stroke="#6a6a6a" stroke-width="1.0"/>
<line x1="357.72" y1="132.12" x2="371.84" y2="132.12" stroke="#6a6a6a" stroke-width="1.0"/>
<line x1="357.72" y1="137.10" x2="371.84" y2="137.10" stroke="#6a6a6a" stroke-width="1.0"/>
<line x1="357.72" y1="142.07" x2="371.84" y2="142.07" stroke="#6a6a6a" stroke-width="1.0"/>
<line x1="357.72" y1="147.05" x2="371.84" y2="147.05" stroke="#6a6a6a" stroke-width="1.0"/>
<line x1="357.72" y1="152.02" x2="371.84" y2="152.02" stroke="#6a6a6a" stroke-width="1.0"/>
<line x1="357.72" y1="157.00" x2="371.84" y2="157.00" stroke="#6a6a6a" stroke-width="1.0"/>
<line x1="357.72" y1="161.97" x2="371.84" y2="161.97" stroke="#6a6a6a" stroke-width="1.0"/>
<line x1="357.72" y1="166.95" x2="371.84" y2="166.95" stroke="#6a6a6a" stroke-width="1.0"/>
<line x1="357.72" y1="171.93" x2="371.84" y2="171.93" stroke="#6a6a6a" stroke-width="1.0"/>
<line x1="357.72" y1="176.90" x2="371.84" y2="176.90" stroke="#6a6a6a" stroke-width="1.0"/>
<line x1="357.72" y1="181.88" x2="371.84" y2="181.88" stroke="#6a6a6a" stroke-width="1.0"/>
<line x1="357.72" y1="186.85" x2="371.84" y2="186.85" stroke="#6a6a6a" stroke-width="1.0"/>
<line x1="357.72" y1="191.82" x2="371.84" y2="191.82" stroke="#6a6a6a" stroke-width="1.0"/>
<line x1="357.72" y1="196.80" x2="371.84" y2="196.80" stroke="#6a6a6a" stroke-width="1.0"/>
<line x1="357.72" y1="201.77" x2="371.84" y2="201.77" stroke="#6a6a6a" stroke-width="1.0"/>
<line x1="357.72" y1="206.75" x2="371.84" y2="206.75" stroke="#6a6a6a" stroke-width="1.0"/>
<line x1="357.72" y1="211.72" x2="371.84" y2="211.72" stroke="#6a6a6a" stroke-width="1.0"/>
<line x1="357.72" y1="216.70" x2="371.84" y2="216.70" stroke="#6a6a6a" stroke-width="1.0"/>
<line x1="357.72" y1="221.67" x2="371.84" y2="221.67" stroke="#6a6a6a" stroke-width="1.0"/>
<line x1="357.72" y1="226.65" x2="371.84" y2="226.65" stroke="#6a6a6a" stroke-width="1.0"/>
<line x1="357.72" y1="231.62" x2="371.84" y2="231.62" stroke="#6a6a6a" stroke-width="1.0"/>
<line x1="357.72" y1="236.60" x2="371.84" y2="236.60" stroke="#6a6a6a" stroke-width="1.0"/>
<line x1="357.72" y1="241.57" x2="371.84" y2="241.57" stroke="#6a6a6a" stroke-width="1.0"/>
<line x1="357.72" y1="246.55" x2="371.84" y2="246.55" stroke="#6a6a6a" stroke-width="1.0"/>
<line x1="357.72" y1="251.52" x2="371.84" y2="251.52" stroke="#6a6a6a" stroke-width="1.0"/>
<line x1="357.72" y1="256.50" x2="371.84" y2="256.50" stroke="#6a6a6a" stroke-width="1.0"/>
<line x1="357.72" y1="261.47" x2="371.84" y2="261.47" stroke="#6a6a6a" stroke-width="1.0"/>
<line x1="357.72" y1="266.45" x2="371.84" y2="266.45" stroke="#6a6a6a" stroke-width="1.0"/>
<line x1="357.72" y1="271.43" x2="371.84" y2="271.43" stroke="#6a6a6a" stroke-width="1.0"/>
<line x1="357.72" y1="276.40" x2="371.84" y2="276.40" stroke="#6a6a6a" stroke-width="1.0"/>
<line x1="357.72" y1="281.38" x2="371.84" y2="281.38" stroke="#6a6a6a" stroke-width="1.0"/>
<line x1="357.72" y1="286.35" x2="371.84" y2="286.35" stroke="#6a6a6a" stroke-width="1.0"/>
<line x1="357.72" y1="291.32" x2="371.84" y2="291.32" stroke="#6a6a6a" stroke-width="1.0"/>
<line x1="357.72" y1="296.30" x2="371.84" y2="296.30" stroke="#6a6a6a" stroke-width="1.0"/>
<line x1="357.72" y1="301.27" x2="371.84" y2="301.27" stroke="#6a6a6a" stroke-width="1.0"/>
<line x1="357.72" y1="306.25" x2="371.84" y2="306.25" stroke="#6a6a6a" stroke-width="1.0"/>
<line x1="357.72" y1="311.22" x2="371.84" y2="311.22" stroke="#6a6a6a" stroke-width="1.0"/>
</g>
<path d="M357.72 313.10V112.40H371.84V313.10" fill="none" stroke="#141414" stroke-width="1.4"/>
<path d="M364.78 112.40V108.70M361.18 108.70H368.38" fill="none" stroke="#555" stroke-width="0.8"/>
<rect x="371.84" y="114.90" width="14.12" height="198.20" fill="#fff"/>
<g clip-path="url(#c25)">
<line x1="374.18" y1="115.20" x2="377.68" y2="111.70" stroke="#141414" stroke-width="1.2"/>
<line x1="374.18" y1="125.15" x2="377.68" y2="121.65" stroke="#141414" stroke-width="1.2"/>
<line x1="369.18" y1="116.65" x2="372.68" y2="120.15" stroke="#141414" stroke-width="1.2"/>
<line x1="374.18" y1="135.10" x2="377.68" y2="131.60" stroke="#141414" stroke-width="1.2"/>
<line x1="369.18" y1="126.60" x2="372.68" y2="130.10" stroke="#141414" stroke-width="1.2"/>
<line x1="374.18" y1="145.05" x2="377.68" y2="141.55" stroke="#141414" stroke-width="1.2"/>
<line x1="369.18" y1="136.55" x2="372.68" y2="140.05" stroke="#141414" stroke-width="1.2"/>
<line x1="374.18" y1="155.00" x2="377.68" y2="151.50" stroke="#141414" stroke-width="1.2"/>
<line x1="369.18" y1="146.50" x2="372.68" y2="150.00" stroke="#141414" stroke-width="1.2"/>
<line x1="374.18" y1="164.95" x2="377.68" y2="161.45" stroke="#141414" stroke-width="1.2"/>
<line x1="369.18" y1="156.45" x2="372.68" y2="159.95" stroke="#141414" stroke-width="1.2"/>
<line x1="374.18" y1="174.90" x2="377.68" y2="171.40" stroke="#141414" stroke-width="1.2"/>
<line x1="369.18" y1="166.40" x2="372.68" y2="169.90" stroke="#141414" stroke-width="1.2"/>
<line x1="374.18" y1="184.85" x2="377.68" y2="181.35" stroke="#141414" stroke-width="1.2"/>
<line x1="369.18" y1="176.35" x2="372.68" y2="179.85" stroke="#141414" stroke-width="1.2"/>
<line x1="374.18" y1="194.80" x2="377.68" y2="191.30" stroke="#141414" stroke-width="1.2"/>
<line x1="369.18" y1="186.30" x2="372.68" y2="189.80" stroke="#141414" stroke-width="1.2"/>
<line x1="374.18" y1="204.75" x2="377.68" y2="201.25" stroke="#141414" stroke-width="1.2"/>
<line x1="369.18" y1="196.25" x2="372.68" y2="199.75" stroke="#141414" stroke-width="1.2"/>
<line x1="374.18" y1="214.70" x2="377.68" y2="211.20" stroke="#141414" stroke-width="1.2"/>
<line x1="369.18" y1="206.20" x2="372.68" y2="209.70" stroke="#141414" stroke-width="1.2"/>
<line x1="374.18" y1="224.65" x2="377.68" y2="221.15" stroke="#141414" stroke-width="1.2"/>
<line x1="369.18" y1="216.15" x2="372.68" y2="219.65" stroke="#141414" stroke-width="1.2"/>
<line x1="374.18" y1="234.60" x2="377.68" y2="231.10" stroke="#141414" stroke-width="1.2"/>
<line x1="369.18" y1="226.10" x2="372.68" y2="229.60" stroke="#141414" stroke-width="1.2"/>
<line x1="374.18" y1="244.55" x2="377.68" y2="241.05" stroke="#141414" stroke-width="1.2"/>
<line x1="369.18" y1="236.05" x2="372.68" y2="239.55" stroke="#141414" stroke-width="1.2"/>
<line x1="374.18" y1="254.50" x2="377.68" y2="251.00" stroke="#141414" stroke-width="1.2"/>
<line x1="369.18" y1="246.00" x2="372.68" y2="249.50" stroke="#141414" stroke-width="1.2"/>
<line x1="374.18" y1="264.45" x2="377.68" y2="260.95" stroke="#141414" stroke-width="1.2"/>
<line x1="369.18" y1="255.95" x2="372.68" y2="259.45" stroke="#141414" stroke-width="1.2"/>
<line x1="374.18" y1="274.40" x2="377.68" y2="270.90" stroke="#141414" stroke-width="1.2"/>
<line x1="369.18" y1="265.90" x2="372.68" y2="269.40" stroke="#141414" stroke-width="1.2"/>
<line x1="374.18" y1="284.35" x2="377.68" y2="280.85" stroke="#141414" stroke-width="1.2"/>
<line x1="369.18" y1="275.85" x2="372.68" y2="279.35" stroke="#141414" stroke-width="1.2"/>
<line x1="374.18" y1="294.30" x2="377.68" y2="290.80" stroke="#141414" stroke-width="1.2"/>
<line x1="369.18" y1="285.80" x2="372.68" y2="289.30" stroke="#141414" stroke-width="1.2"/>
<line x1="374.18" y1="304.25" x2="377.68" y2="300.75" stroke="#141414" stroke-width="1.2"/>
<line x1="369.18" y1="295.75" x2="372.68" y2="299.25" stroke="#141414" stroke-width="1.2"/>
<line x1="374.18" y1="314.20" x2="377.68" y2="310.70" stroke="#141414" stroke-width="1.2"/>
<line x1="369.18" y1="305.70" x2="372.68" y2="309.20" stroke="#141414" stroke-width="1.2"/>
<line x1="384.09" y1="115.20" x2="387.59" y2="111.70" stroke="#141414" stroke-width="1.2"/>
<line x1="384.09" y1="125.15" x2="387.59" y2="121.65" stroke="#141414" stroke-width="1.2"/>
<line x1="379.09" y1="116.65" x2="382.59" y2="120.15" stroke="#141414" stroke-width="1.2"/>
<line x1="384.09" y1="135.10" x2="387.59" y2="131.60" stroke="#141414" stroke-width="1.2"/>
<line x1="379.09" y1="126.60" x2="382.59" y2="130.10" stroke="#141414" stroke-width="1.2"/>
<line x1="384.09" y1="145.05" x2="387.59" y2="141.55" stroke="#141414" stroke-width="1.2"/>
<line x1="379.09" y1="136.55" x2="382.59" y2="140.05" stroke="#141414" stroke-width="1.2"/>
<line x1="384.09" y1="155.00" x2="387.59" y2="151.50" stroke="#141414" stroke-width="1.2"/>
<line x1="379.09" y1="146.50" x2="382.59" y2="150.00" stroke="#141414" stroke-width="1.2"/>
<line x1="384.09" y1="164.95" x2="387.59" y2="161.45" stroke="#141414" stroke-width="1.2"/>
<line x1="379.09" y1="156.45" x2="382.59" y2="159.95" stroke="#141414" stroke-width="1.2"/>
<line x1="384.09" y1="174.90" x2="387.59" y2="171.40" stroke="#141414" stroke-width="1.2"/>
<line x1="379.09" y1="166.40" x2="382.59" y2="169.90" stroke="#141414" stroke-width="1.2"/>
<line x1="384.09" y1="184.85" x2="387.59" y2="181.35" stroke="#141414" stroke-width="1.2"/>
<line x1="379.09" y1="176.35" x2="382.59" y2="179.85" stroke="#141414" stroke-width="1.2"/>
<line x1="384.09" y1="194.80" x2="387.59" y2="191.30" stroke="#141414" stroke-width="1.2"/>
<line x1="379.09" y1="186.30" x2="382.59" y2="189.80" stroke="#141414" stroke-width="1.2"/>
<line x1="384.09" y1="204.75" x2="387.59" y2="201.25" stroke="#141414" stroke-width="1.2"/>
<line x1="379.09" y1="196.25" x2="382.59" y2="199.75" stroke="#141414" stroke-width="1.2"/>
<line x1="384.09" y1="214.70" x2="387.59" y2="211.20" stroke="#141414" stroke-width="1.2"/>
<line x1="379.09" y1="206.20" x2="382.59" y2="209.70" stroke="#141414" stroke-width="1.2"/>
<line x1="384.09" y1="224.65" x2="387.59" y2="221.15" stroke="#141414" stroke-width="1.2"/>
<line x1="379.09" y1="216.15" x2="382.59" y2="219.65" stroke="#141414" stroke-width="1.2"/>
<line x1="384.09" y1="234.60" x2="387.59" y2="231.10" stroke="#141414" stroke-width="1.2"/>
<line x1="379.09" y1="226.10" x2="382.59" y2="229.60" stroke="#141414" stroke-width="1.2"/>
<line x1="384.09" y1="244.55" x2="387.59" y2="241.05" stroke="#141414" stroke-width="1.2"/>
<line x1="379.09" y1="236.05" x2="382.59" y2="239.55" stroke="#141414" stroke-width="1.2"/>
<line x1="384.09" y1="254.50" x2="387.59" y2="251.00" stroke="#141414" stroke-width="1.2"/>
<line x1="379.09" y1="246.00" x2="382.59" y2="249.50" stroke="#141414" stroke-width="1.2"/>
<line x1="384.09" y1="264.45" x2="387.59" y2="260.95" stroke="#141414" stroke-width="1.2"/>
<line x1="379.09" y1="255.95" x2="382.59" y2="259.45" stroke="#141414" stroke-width="1.2"/>
<line x1="384.09" y1="274.40" x2="387.59" y2="270.90" stroke="#141414" stroke-width="1.2"/>
<line x1="379.09" y1="265.90" x2="382.59" y2="269.40" stroke="#141414" stroke-width="1.2"/>
<line x1="384.09" y1="284.35" x2="387.59" y2="280.85" stroke="#141414" stroke-width="1.2"/>
<line x1="379.09" y1="275.85" x2="382.59" y2="279.35" stroke="#141414" stroke-width="1.2"/>
<line x1="384.09" y1="294.30" x2="387.59" y2="290.80" stroke="#141414" stroke-width="1.2"/>
<line x1="379.09" y1="285.80" x2="382.59" y2="289.30" stroke="#141414" stroke-width="1.2"/>
<line x1="384.09" y1="304.25" x2="387.59" y2="300.75" stroke="#141414" stroke-width="1.2"/>
<line x1="379.09" y1="295.75" x2="382.59" y2="299.25" stroke="#141414" stroke-width="1.2"/>
<line x1="384.09" y1="314.20" x2="387.59" y2="310.70" stroke="#141414" stroke-width="1.2"/>
<line x1="379.09" y1="305.70" x2="382.59" y2="309.20" stroke="#141414" stroke-width="1.2"/>
</g>
<path d="M371.84 313.10V114.90H385.96V313.10" fill="none" stroke="#141414" stroke-width="1.4"/>
<path d="M378.90 114.90V111.00M375.30 111.00H382.50" fill="none" stroke="#555" stroke-width="0.8"/>
<rect x="329.48" y="212.00" width="14.12" height="101.10" fill="#fff"/>
<g clip-path="url(#c22)">
<line x1="327.48" y1="216.90" x2="345.60" y2="201.77" stroke="#141414" stroke-width="1.45"/>
<line x1="327.48" y1="226.90" x2="345.60" y2="211.77" stroke="#141414" stroke-width="1.45"/>
<line x1="327.48" y1="236.90" x2="345.60" y2="221.77" stroke="#141414" stroke-width="1.45"/>
<line x1="327.48" y1="246.90" x2="345.60" y2="231.77" stroke="#141414" stroke-width="1.45"/>
<line x1="327.48" y1="256.90" x2="345.60" y2="241.77" stroke="#141414" stroke-width="1.45"/>
<line x1="327.48" y1="266.90" x2="345.60" y2="251.77" stroke="#141414" stroke-width="1.45"/>
<line x1="327.48" y1="276.90" x2="345.60" y2="261.77" stroke="#141414" stroke-width="1.45"/>
<line x1="327.48" y1="286.90" x2="345.60" y2="271.77" stroke="#141414" stroke-width="1.45"/>
<line x1="327.48" y1="296.90" x2="345.60" y2="281.77" stroke="#141414" stroke-width="1.45"/>
<line x1="327.48" y1="306.90" x2="345.60" y2="291.77" stroke="#141414" stroke-width="1.45"/>
<line x1="327.48" y1="316.90" x2="345.60" y2="301.77" stroke="#141414" stroke-width="1.45"/>
<line x1="327.48" y1="326.90" x2="345.60" y2="311.77" stroke="#141414" stroke-width="1.45"/>
</g>
<path d="M329.48 313.10V212.00H343.60V313.10" fill="none" stroke="#141414" stroke-width="1.4"/>
<path d="M336.54 212.00V210.40M332.94 210.40H340.14" fill="none" stroke="#141414" stroke-width="0.8"/>
<rect x="300.84" y="263.60" width="14.92" height="49.50" fill="#000"/>
<path d="M308.30 264.00V262.60M304.70 262.60H311.90" fill="none" stroke="#141414" stroke-width="1.2"/>
<rect x="432.06" y="234.00" width="14.12" height="79.10" fill="url(#gp)"/>
<line x1="432.06" y1="234.00" x2="446.18" y2="234.00" stroke="#3a3a3a" stroke-width="1.2"/>
<line x1="446.18" y1="234.00" x2="446.18" y2="313.10" stroke="#555" stroke-width="0.8"/>
<path d="M439.12 234.00V231.40M435.52 231.40H442.72" fill="none" stroke="#141414" stroke-width="1.2"/>
<rect x="460.30" y="228.40" width="14.12" height="84.70" fill="#fff"/>
<g clip-path="url(#c33)">
<line x1="464.10" y1="228.40" x2="464.10" y2="313.10" stroke="#666" stroke-width="0.9"/>
<line x1="469.10" y1="228.40" x2="469.10" y2="313.10" stroke="#666" stroke-width="0.9"/>
</g>
<path d="M460.30 313.10V228.40H474.42V313.10" fill="none" stroke="#141414" stroke-width="1.4"/>
<path d="M467.36 228.40V225.60M463.76 225.60H470.96" fill="none" stroke="#555" stroke-width="0.8"/>
<rect x="474.42" y="90.00" width="14.12" height="223.10" fill="#fff"/>
<g clip-path="url(#c34)">
<line x1="474.42" y1="92.33" x2="488.54" y2="92.33" stroke="#6a6a6a" stroke-width="1.0"/>
<line x1="474.42" y1="97.30" x2="488.54" y2="97.30" stroke="#6a6a6a" stroke-width="1.0"/>
<line x1="474.42" y1="102.27" x2="488.54" y2="102.27" stroke="#6a6a6a" stroke-width="1.0"/>
<line x1="474.42" y1="107.25" x2="488.54" y2="107.25" stroke="#6a6a6a" stroke-width="1.0"/>
<line x1="474.42" y1="112.22" x2="488.54" y2="112.22" stroke="#6a6a6a" stroke-width="1.0"/>
<line x1="474.42" y1="117.20" x2="488.54" y2="117.20" stroke="#6a6a6a" stroke-width="1.0"/>
<line x1="474.42" y1="122.17" x2="488.54" y2="122.17" stroke="#6a6a6a" stroke-width="1.0"/>
<line x1="474.42" y1="127.15" x2="488.54" y2="127.15" stroke="#6a6a6a" stroke-width="1.0"/>
<line x1="474.42" y1="132.12" x2="488.54" y2="132.12" stroke="#6a6a6a" stroke-width="1.0"/>
<line x1="474.42" y1="137.10" x2="488.54" y2="137.10" stroke="#6a6a6a" stroke-width="1.0"/>
<line x1="474.42" y1="142.07" x2="488.54" y2="142.07" stroke="#6a6a6a" stroke-width="1.0"/>
<line x1="474.42" y1="147.05" x2="488.54" y2="147.05" stroke="#6a6a6a" stroke-width="1.0"/>
<line x1="474.42" y1="152.02" x2="488.54" y2="152.02" stroke="#6a6a6a" stroke-width="1.0"/>
<line x1="474.42" y1="157.00" x2="488.54" y2="157.00" stroke="#6a6a6a" stroke-width="1.0"/>
<line x1="474.42" y1="161.97" x2="488.54" y2="161.97" stroke="#6a6a6a" stroke-width="1.0"/>
<line x1="474.42" y1="166.95" x2="488.54" y2="166.95" stroke="#6a6a6a" stroke-width="1.0"/>
<line x1="474.42" y1="171.93" x2="488.54" y2="171.93" stroke="#6a6a6a" stroke-width="1.0"/>
<line x1="474.42" y1="176.90" x2="488.54" y2="176.90" stroke="#6a6a6a" stroke-width="1.0"/>
<line x1="474.42" y1="181.88" x2="488.54" y2="181.88" stroke="#6a6a6a" stroke-width="1.0"/>
<line x1="474.42" y1="186.85" x2="488.54" y2="186.85" stroke="#6a6a6a" stroke-width="1.0"/>
<line x1="474.42" y1="191.82" x2="488.54" y2="191.82" stroke="#6a6a6a" stroke-width="1.0"/>
<line x1="474.42" y1="196.80" x2="488.54" y2="196.80" stroke="#6a6a6a" stroke-width="1.0"/>
<line x1="474.42" y1="201.77" x2="488.54" y2="201.77" stroke="#6a6a6a" stroke-width="1.0"/>
<line x1="474.42" y1="206.75" x2="488.54" y2="206.75" stroke="#6a6a6a" stroke-width="1.0"/>
<line x1="474.42" y1="211.72" x2="488.54" y2="211.72" stroke="#6a6a6a" stroke-width="1.0"/>
<line x1="474.42" y1="216.70" x2="488.54" y2="216.70" stroke="#6a6a6a" stroke-width="1.0"/>
<line x1="474.42" y1="221.67" x2="488.54" y2="221.67" stroke="#6a6a6a" stroke-width="1.0"/>
<line x1="474.42" y1="226.65" x2="488.54" y2="226.65" stroke="#6a6a6a" stroke-width="1.0"/>
<line x1="474.42" y1="231.62" x2="488.54" y2="231.62" stroke="#6a6a6a" stroke-width="1.0"/>
<line x1="474.42" y1="236.60" x2="488.54" y2="236.60" stroke="#6a6a6a" stroke-width="1.0"/>
<line x1="474.42" y1="241.57" x2="488.54" y2="241.57" stroke="#6a6a6a" stroke-width="1.0"/>
<line x1="474.42" y1="246.55" x2="488.54" y2="246.55" stroke="#6a6a6a" stroke-width="1.0"/>
<line x1="474.42" y1="251.52" x2="488.54" y2="251.52" stroke="#6a6a6a" stroke-width="1.0"/>
<line x1="474.42" y1="256.50" x2="488.54" y2="256.50" stroke="#6a6a6a" stroke-width="1.0"/>
<line x1="474.42" y1="261.47" x2="488.54" y2="261.47" stroke="#6a6a6a" stroke-width="1.0"/>
<line x1="474.42" y1="266.45" x2="488.54" y2="266.45" stroke="#6a6a6a" stroke-width="1.0"/>
<line x1="474.42" y1="271.43" x2="488.54" y2="271.43" stroke="#6a6a6a" stroke-width="1.0"/>
<line x1="474.42" y1="276.40" x2="488.54" y2="276.40" stroke="#6a6a6a" stroke-width="1.0"/>
<line x1="474.42" y1="281.38" x2="488.54" y2="281.38" stroke="#6a6a6a" stroke-width="1.0"/>
<line x1="474.42" y1="286.35" x2="488.54" y2="286.35" stroke="#6a6a6a" stroke-width="1.0"/>
<line x1="474.42" y1="291.32" x2="488.54" y2="291.32" stroke="#6a6a6a" stroke-width="1.0"/>
<line x1="474.42" y1="296.30" x2="488.54" y2="296.30" stroke="#6a6a6a" stroke-width="1.0"/>
<line x1="474.42" y1="301.27" x2="488.54" y2="301.27" stroke="#6a6a6a" stroke-width="1.0"/>
<line x1="474.42" y1="306.25" x2="488.54" y2="306.25" stroke="#6a6a6a" stroke-width="1.0"/>
<line x1="474.42" y1="311.22" x2="488.54" y2="311.22" stroke="#6a6a6a" stroke-width="1.0"/>
</g>
<path d="M474.42 313.10V90.00H488.54V313.10" fill="none" stroke="#141414" stroke-width="1.4"/>
<path d="M481.48 90.00V87.00M477.88 87.00H485.08" fill="none" stroke="#555" stroke-width="0.8"/>
<rect x="488.54" y="93.00" width="14.12" height="220.10" fill="#fff"/>
<g clip-path="url(#c35)">
<line x1="493.10" y1="95.30" x2="496.60" y2="91.80" stroke="#141414" stroke-width="1.2"/>
<line x1="493.10" y1="105.25" x2="496.60" y2="101.75" stroke="#141414" stroke-width="1.2"/>
<line x1="488.10" y1="96.75" x2="491.60" y2="100.25" stroke="#141414" stroke-width="1.2"/>
<line x1="493.10" y1="115.20" x2="496.60" y2="111.70" stroke="#141414" stroke-width="1.2"/>
<line x1="488.10" y1="106.70" x2="491.60" y2="110.20" stroke="#141414" stroke-width="1.2"/>
<line x1="493.10" y1="125.15" x2="496.60" y2="121.65" stroke="#141414" stroke-width="1.2"/>
<line x1="488.10" y1="116.65" x2="491.60" y2="120.15" stroke="#141414" stroke-width="1.2"/>
<line x1="493.10" y1="135.10" x2="496.60" y2="131.60" stroke="#141414" stroke-width="1.2"/>
<line x1="488.10" y1="126.60" x2="491.60" y2="130.10" stroke="#141414" stroke-width="1.2"/>
<line x1="493.10" y1="145.05" x2="496.60" y2="141.55" stroke="#141414" stroke-width="1.2"/>
<line x1="488.10" y1="136.55" x2="491.60" y2="140.05" stroke="#141414" stroke-width="1.2"/>
<line x1="493.10" y1="155.00" x2="496.60" y2="151.50" stroke="#141414" stroke-width="1.2"/>
<line x1="488.10" y1="146.50" x2="491.60" y2="150.00" stroke="#141414" stroke-width="1.2"/>
<line x1="493.10" y1="164.95" x2="496.60" y2="161.45" stroke="#141414" stroke-width="1.2"/>
<line x1="488.10" y1="156.45" x2="491.60" y2="159.95" stroke="#141414" stroke-width="1.2"/>
<line x1="493.10" y1="174.90" x2="496.60" y2="171.40" stroke="#141414" stroke-width="1.2"/>
<line x1="488.10" y1="166.40" x2="491.60" y2="169.90" stroke="#141414" stroke-width="1.2"/>
<line x1="493.10" y1="184.85" x2="496.60" y2="181.35" stroke="#141414" stroke-width="1.2"/>
<line x1="488.10" y1="176.35" x2="491.60" y2="179.85" stroke="#141414" stroke-width="1.2"/>
<line x1="493.10" y1="194.80" x2="496.60" y2="191.30" stroke="#141414" stroke-width="1.2"/>
<line x1="488.10" y1="186.30" x2="491.60" y2="189.80" stroke="#141414" stroke-width="1.2"/>
<line x1="493.10" y1="204.75" x2="496.60" y2="201.25" stroke="#141414" stroke-width="1.2"/>
<line x1="488.10" y1="196.25" x2="491.60" y2="199.75" stroke="#141414" stroke-width="1.2"/>
<line x1="493.10" y1="214.70" x2="496.60" y2="211.20" stroke="#141414" stroke-width="1.2"/>
<line x1="488.10" y1="206.20" x2="491.60" y2="209.70" stroke="#141414" stroke-width="1.2"/>
<line x1="493.10" y1="224.65" x2="496.60" y2="221.15" stroke="#141414" stroke-width="1.2"/>
<line x1="488.10" y1="216.15" x2="491.60" y2="219.65" stroke="#141414" stroke-width="1.2"/>
<line x1="493.10" y1="234.60" x2="496.60" y2="231.10" stroke="#141414" stroke-width="1.2"/>
<line x1="488.10" y1="226.10" x2="491.60" y2="229.60" stroke="#141414" stroke-width="1.2"/>
<line x1="493.10" y1="244.55" x2="496.60" y2="241.05" stroke="#141414" stroke-width="1.2"/>
<line x1="488.10" y1="236.05" x2="491.60" y2="239.55" stroke="#141414" stroke-width="1.2"/>
<line x1="493.10" y1="254.50" x2="496.60" y2="251.00" stroke="#141414" stroke-width="1.2"/>
<line x1="488.10" y1="246.00" x2="491.60" y2="249.50" stroke="#141414" stroke-width="1.2"/>
<line x1="493.10" y1="264.45" x2="496.60" y2="260.95" stroke="#141414" stroke-width="1.2"/>
<line x1="488.10" y1="255.95" x2="491.60" y2="259.45" stroke="#141414" stroke-width="1.2"/>
<line x1="493.10" y1="274.40" x2="496.60" y2="270.90" stroke="#141414" stroke-width="1.2"/>
<line x1="488.10" y1="265.90" x2="491.60" y2="269.40" stroke="#141414" stroke-width="1.2"/>
<line x1="493.10" y1="284.35" x2="496.60" y2="280.85" stroke="#141414" stroke-width="1.2"/>
<line x1="488.10" y1="275.85" x2="491.60" y2="279.35" stroke="#141414" stroke-width="1.2"/>
<line x1="493.10" y1="294.30" x2="496.60" y2="290.80" stroke="#141414" stroke-width="1.2"/>
<line x1="488.10" y1="285.80" x2="491.60" y2="289.30" stroke="#141414" stroke-width="1.2"/>
<line x1="493.10" y1="304.25" x2="496.60" y2="300.75" stroke="#141414" stroke-width="1.2"/>
<line x1="488.10" y1="295.75" x2="491.60" y2="299.25" stroke="#141414" stroke-width="1.2"/>
<line x1="493.10" y1="314.20" x2="496.60" y2="310.70" stroke="#141414" stroke-width="1.2"/>
<line x1="488.10" y1="305.70" x2="491.60" y2="309.20" stroke="#141414" stroke-width="1.2"/>
<line x1="503.01" y1="95.30" x2="506.51" y2="91.80" stroke="#141414" stroke-width="1.2"/>
<line x1="503.01" y1="105.25" x2="506.51" y2="101.75" stroke="#141414" stroke-width="1.2"/>
<line x1="498.01" y1="96.75" x2="501.51" y2="100.25" stroke="#141414" stroke-width="1.2"/>
<line x1="503.01" y1="115.20" x2="506.51" y2="111.70" stroke="#141414" stroke-width="1.2"/>
<line x1="498.01" y1="106.70" x2="501.51" y2="110.20" stroke="#141414" stroke-width="1.2"/>
<line x1="503.01" y1="125.15" x2="506.51" y2="121.65" stroke="#141414" stroke-width="1.2"/>
<line x1="498.01" y1="116.65" x2="501.51" y2="120.15" stroke="#141414" stroke-width="1.2"/>
<line x1="503.01" y1="135.10" x2="506.51" y2="131.60" stroke="#141414" stroke-width="1.2"/>
<line x1="498.01" y1="126.60" x2="501.51" y2="130.10" stroke="#141414" stroke-width="1.2"/>
<line x1="503.01" y1="145.05" x2="506.51" y2="141.55" stroke="#141414" stroke-width="1.2"/>
<line x1="498.01" y1="136.55" x2="501.51" y2="140.05" stroke="#141414" stroke-width="1.2"/>
<line x1="503.01" y1="155.00" x2="506.51" y2="151.50" stroke="#141414" stroke-width="1.2"/>
<line x1="498.01" y1="146.50" x2="501.51" y2="150.00" stroke="#141414" stroke-width="1.2"/>
<line x1="503.01" y1="164.95" x2="506.51" y2="161.45" stroke="#141414" stroke-width="1.2"/>
<line x1="498.01" y1="156.45" x2="501.51" y2="159.95" stroke="#141414" stroke-width="1.2"/>
<line x1="503.01" y1="174.90" x2="506.51" y2="171.40" stroke="#141414" stroke-width="1.2"/>
<line x1="498.01" y1="166.40" x2="501.51" y2="169.90" stroke="#141414" stroke-width="1.2"/>
<line x1="503.01" y1="184.85" x2="506.51" y2="181.35" stroke="#141414" stroke-width="1.2"/>
<line x1="498.01" y1="176.35" x2="501.51" y2="179.85" stroke="#141414" stroke-width="1.2"/>
<line x1="503.01" y1="194.80" x2="506.51" y2="191.30" stroke="#141414" stroke-width="1.2"/>
<line x1="498.01" y1="186.30" x2="501.51" y2="189.80" stroke="#141414" stroke-width="1.2"/>
<line x1="503.01" y1="204.75" x2="506.51" y2="201.25" stroke="#141414" stroke-width="1.2"/>
<line x1="498.01" y1="196.25" x2="501.51" y2="199.75" stroke="#141414" stroke-width="1.2"/>
<line x1="503.01" y1="214.70" x2="506.51" y2="211.20" stroke="#141414" stroke-width="1.2"/>
<line x1="498.01" y1="206.20" x2="501.51" y2="209.70" stroke="#141414" stroke-width="1.2"/>
<line x1="503.01" y1="224.65" x2="506.51" y2="221.15" stroke="#141414" stroke-width="1.2"/>
<line x1="498.01" y1="216.15" x2="501.51" y2="219.65" stroke="#141414" stroke-width="1.2"/>
<line x1="503.01" y1="234.60" x2="506.51" y2="231.10" stroke="#141414" stroke-width="1.2"/>
<line x1="498.01" y1="226.10" x2="501.51" y2="229.60" stroke="#141414" stroke-width="1.2"/>
<line x1="503.01" y1="244.55" x2="506.51" y2="241.05" stroke="#141414" stroke-width="1.2"/>
<line x1="498.01" y1="236.05" x2="501.51" y2="239.55" stroke="#141414" stroke-width="1.2"/>
<line x1="503.01" y1="254.50" x2="506.51" y2="251.00" stroke="#141414" stroke-width="1.2"/>
<line x1="498.01" y1="246.00" x2="501.51" y2="249.50" stroke="#141414" stroke-width="1.2"/>
<line x1="503.01" y1="264.45" x2="506.51" y2="260.95" stroke="#141414" stroke-width="1.2"/>
<line x1="498.01" y1="255.95" x2="501.51" y2="259.45" stroke="#141414" stroke-width="1.2"/>
<line x1="503.01" y1="274.40" x2="506.51" y2="270.90" stroke="#141414" stroke-width="1.2"/>
<line x1="498.01" y1="265.90" x2="501.51" y2="269.40" stroke="#141414" stroke-width="1.2"/>
<line x1="503.01" y1="284.35" x2="506.51" y2="280.85" stroke="#141414" stroke-width="1.2"/>
<line x1="498.01" y1="275.85" x2="501.51" y2="279.35" stroke="#141414" stroke-width="1.2"/>
<line x1="503.01" y1="294.30" x2="506.51" y2="290.80" stroke="#141414" stroke-width="1.2"/>
<line x1="498.01" y1="285.80" x2="501.51" y2="289.30" stroke="#141414" stroke-width="1.2"/>
<line x1="503.01" y1="304.25" x2="506.51" y2="300.75" stroke="#141414" stroke-width="1.2"/>
<line x1="498.01" y1="295.75" x2="501.51" y2="299.25" stroke="#141414" stroke-width="1.2"/>
<line x1="503.01" y1="314.20" x2="506.51" y2="310.70" stroke="#141414" stroke-width="1.2"/>
<line x1="498.01" y1="305.70" x2="501.51" y2="309.20" stroke="#141414" stroke-width="1.2"/>
</g>
<path d="M488.54 313.10V93.00H502.66V313.10" fill="none" stroke="#141414" stroke-width="1.4"/>
<path d="M495.60 93.00V92.30M492.00 92.30H499.20" fill="none" stroke="#555" stroke-width="0.8"/>
<rect x="446.18" y="134.00" width="14.12" height="179.10" fill="#fff"/>
<g clip-path="url(#c32)">
<line x1="444.18" y1="139.46" x2="462.30" y2="124.33" stroke="#141414" stroke-width="1.45"/>
<line x1="444.18" y1="149.46" x2="462.30" y2="134.33" stroke="#141414" stroke-width="1.45"/>
<line x1="444.18" y1="159.46" x2="462.30" y2="144.33" stroke="#141414" stroke-width="1.45"/>
<line x1="444.18" y1="169.46" x2="462.30" y2="154.33" stroke="#141414" stroke-width="1.45"/>
<line x1="444.18" y1="179.46" x2="462.30" y2="164.33" stroke="#141414" stroke-width="1.45"/>
<line x1="444.18" y1="189.46" x2="462.30" y2="174.33" stroke="#141414" stroke-width="1.45"/>
<line x1="444.18" y1="199.46" x2="462.30" y2="184.33" stroke="#141414" stroke-width="1.45"/>
<line x1="444.18" y1="209.46" x2="462.30" y2="194.33" stroke="#141414" stroke-width="1.45"/>
<line x1="444.18" y1="219.46" x2="462.30" y2="204.33" stroke="#141414" stroke-width="1.45"/>
<line x1="444.18" y1="229.46" x2="462.30" y2="214.33" stroke="#141414" stroke-width="1.45"/>
<line x1="444.18" y1="239.46" x2="462.30" y2="224.33" stroke="#141414" stroke-width="1.45"/>
<line x1="444.18" y1="249.46" x2="462.30" y2="234.33" stroke="#141414" stroke-width="1.45"/>
<line x1="444.18" y1="259.46" x2="462.30" y2="244.33" stroke="#141414" stroke-width="1.45"/>
<line x1="444.18" y1="269.46" x2="462.30" y2="254.33" stroke="#141414" stroke-width="1.45"/>
<line x1="444.18" y1="279.46" x2="462.30" y2="264.33" stroke="#141414" stroke-width="1.45"/>
<line x1="444.18" y1="289.46" x2="462.30" y2="274.33" stroke="#141414" stroke-width="1.45"/>
<line x1="444.18" y1="299.46" x2="462.30" y2="284.33" stroke="#141414" stroke-width="1.45"/>
<line x1="444.18" y1="309.46" x2="462.30" y2="294.33" stroke="#141414" stroke-width="1.45"/>
<line x1="444.18" y1="319.46" x2="462.30" y2="304.33" stroke="#141414" stroke-width="1.45"/>
<line x1="444.18" y1="329.46" x2="462.30" y2="314.33" stroke="#141414" stroke-width="1.45"/>
</g>
<path d="M446.18 313.10V134.00H460.30V313.10" fill="none" stroke="#141414" stroke-width="1.4"/>
<path d="M453.24 134.00V132.60M449.64 132.60H456.84" fill="none" stroke="#141414" stroke-width="0.8"/>
<rect x="417.54" y="231.60" width="14.92" height="81.50" fill="#000"/>
<path d="M425.00 232.00V227.00M421.40 227.00H428.60" fill="none" stroke="#141414" stroke-width="1.2"/>
<line x1="52.85" y1="49" x2="52.85" y2="313.6" stroke="#000" stroke-width="1.1"/>
<line x1="52.35" y1="313.1" x2="519.2" y2="313.1" stroke="#000" stroke-width="1.15"/>
<line x1="48.65" y1="313.40" x2="52.85" y2="313.40" stroke="#141414" stroke-width="1.1"/>
<text x="46.2" y="318.20" text-anchor="end" class="yl">1</text>
<line x1="48.65" y1="269.40" x2="52.85" y2="269.40" stroke="#141414" stroke-width="1.1"/>
<text x="46.2" y="274.20" text-anchor="end" class="yl">10</text>
<line x1="48.65" y1="225.40" x2="52.85" y2="225.40" stroke="#141414" stroke-width="1.1"/>
<text x="46.2" y="230.20" text-anchor="end" class="yl">100</text>
<line x1="48.65" y1="181.40" x2="52.85" y2="181.40" stroke="#141414" stroke-width="1.1"/>
<text x="46.2" y="186.20" text-anchor="end" class="yl">1000</text>
<line x1="48.65" y1="137.40" x2="52.85" y2="137.40" stroke="#141414" stroke-width="1.1"/>
<text x="46.2" y="142.20" text-anchor="end" class="yl">10000</text>
<line x1="48.65" y1="93.40" x2="52.85" y2="93.40" stroke="#141414" stroke-width="1.1"/>
<text x="46.2" y="98.20" text-anchor="end" class="yl">100000</text>
<line x1="48.65" y1="49.40" x2="52.85" y2="49.40" stroke="#141414" stroke-width="1.1"/>
<text x="46.2" y="54.20" text-anchor="end" class="yl">1000000</text>
<line x1="110.92" y1="313.1" x2="110.92" y2="316.70000000000005" stroke="#141414" stroke-width="1.0"/>
<line x1="169.14" y1="313.1" x2="169.14" y2="315.90000000000003" stroke="#141414" stroke-width="1.0"/>
<line x1="227.36" y1="313.1" x2="227.36" y2="316.70000000000005" stroke="#141414" stroke-width="1.0"/>
<line x1="285.58" y1="313.1" x2="285.58" y2="315.90000000000003" stroke="#141414" stroke-width="1.0"/>
<line x1="343.80" y1="313.1" x2="343.80" y2="316.70000000000005" stroke="#141414" stroke-width="1.0"/>
<line x1="402.02" y1="313.1" x2="402.02" y2="315.90000000000003" stroke="#141414" stroke-width="1.0"/>
<line x1="460.24" y1="313.1" x2="460.24" y2="316.70000000000005" stroke="#141414" stroke-width="1.0"/>
<line x1="518.46" y1="313.1" x2="518.46" y2="315.90000000000003" stroke="#141414" stroke-width="1.0"/>
<text x="111.05" y="328.9" text-anchor="middle" class="xl">t17</text>
<text x="227.50" y="328.9" text-anchor="middle" class="xl">t18</text>
<text x="343.80" y="328.9" text-anchor="middle" class="xl">m1</text>
<text x="460.50" y="328.9" text-anchor="middle" class="xl">m3</text>
<text transform="translate(9.6 207.3) rotate(-90) scale(1 1.0)" class="yt" textLength="84.2" lengthAdjust="spacing">Number of MKs</text>
<rect x="248.2" y="2.05" width="8.0" height="7.6" fill="#000" stroke="#141414" stroke-width="1.35"/>
<text x="266.9" y="9.80" class="lg">0</text>
<rect x="248.2" y="13.90" width="8.0" height="7.6" fill="#cbcbcb" stroke="#141414" stroke-width="1.35"/>
<text x="266.9" y="21.60" class="lg">Ab</text>
<rect x="248.2" y="25.75" width="8.0" height="7.6" fill="#fff" stroke="#141414" stroke-width="1.35"/>
<path d="M248.2 29.95L252.79999999999998 25.75M253.79999999999998 33.35L256.2 31.15" stroke="#141414" stroke-width="1" fill="none"/>
<text x="266.9" y="33.40" class="lg" textLength="80.6" lengthAdjust="spacing">PEG-rhuMGDF</text>
<rect x="248.2" y="37.60" width="8.0" height="7.6" fill="#fff" stroke="#141414" stroke-width="1.35"/>
<path d="M250.89999999999998 37.60v7.6M252.5 37.60v7.6" stroke="#777" stroke-width="0.8" fill="none"/>
<text x="266.9" y="45.20" class="lg" textLength="102.3" lengthAdjust="spacing">PEG-rhuMGDF+Ab</text>
<rect x="248.2" y="49.45" width="8.0" height="7.6" fill="#fff" stroke="#141414" stroke-width="1.35"/>
<path d="M248.2 53.35h8.0" stroke="#888" stroke-width="0.9" fill="none"/>
<text x="266.9" y="57.00" class="lg" textLength="76.3" lengthAdjust="spacing">IL-3+IL-6+SCF</text>
<rect x="248.2" y="61.30" width="8.0" height="7.6" fill="#fff" stroke="#141414" stroke-width="1.35"/>
<path d="M248.79999999999998 65.50l2.8 2.8" stroke="#141414" stroke-width="1.2" fill="none"/>
<text x="266.9" y="68.80" class="lg" textLength="97.6" lengthAdjust="spacing">IL-3+IL-6+SCF+Ab</text>
</svg>
</body></html>
